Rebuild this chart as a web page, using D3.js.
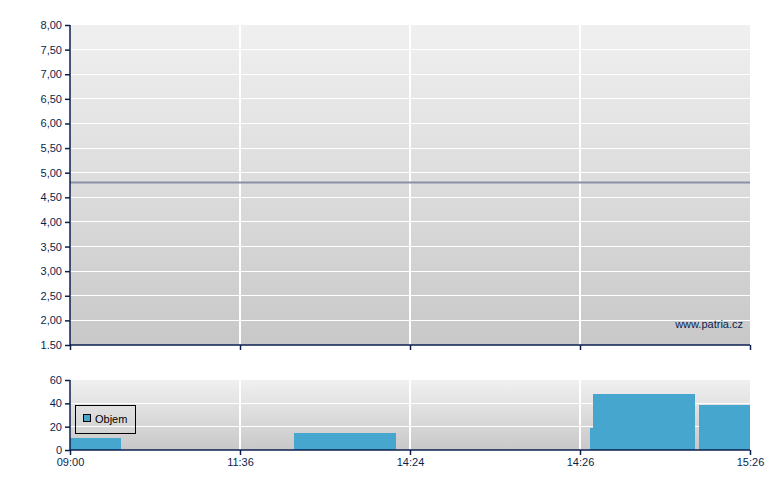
<!DOCTYPE html>
<html><head><meta charset="utf-8">
<script src="https://cdn.jsdelivr.net/npm/d3@7"></script>
<style>body{margin:0;background:#fff}svg text{font-family:"Liberation Sans",Arial,sans-serif}</style>
</head><body>
<svg id="c" width="780" height="490"></svg>
<script>
// Data
const timeLabels = ["09:00", "11:36", "14:24", "14:26", "15:26"];
const priceTicks = [8, 7.5, 7, 6.5, 6, 5.5, 5, 4.5, 4, 3.5, 3, 2.5, 2, 1.5];
const priceTickLabels = ["8,00","7,50","7,00","6,50","6,00","5,50","5,00","4,50","4,00","3,50","3,00","2,50","2,00","1.50"];
const priceLine = [[0, 4.8], [4, 4.8]];
const volTicks = [0, 20, 40, 60];
const barStart = [0, 1.318, 3.059, 3.076, 3.7];
const barEnd   = [0.3, 1.918, 3.076, 3.676, 4.0];
const barValue = [10, 15, 19, 48, 39];

(function () {
const navy = "#0b1f4f";
const barColor = "#46a6ce";
const svg = d3.select("#c");
const defs = svg.append("defs");
const grad = defs.append("linearGradient").attr("id","bg").attr("x1",0).attr("y1",0).attr("x2",0).attr("y2",1);
grad.append("stop").attr("offset","0%").attr("stop-color","#f0f0f0");
grad.append("stop").attr("offset","100%").attr("stop-color","#c8c8c8");

const L = 70, R = 750;
const x = d3.scaleLinear().domain([0, 4]).range([L, R]);

// ---- Top panel
const yP = d3.scaleLinear().domain([1.5, 8]).range([345, 25]);
const topG = svg.append("g");
topG.append("rect").attr("x", L).attr("y", 25).attr("width", R - L).attr("height", 320).attr("fill", "url(#bg)");
topG.selectAll("line.hg").data(priceTicks.filter(d => d > 1.5 && d < 8)).join("line")
  .attr("x1", L).attr("x2", R).attr("y1", d => yP(d)).attr("y2", d => yP(d))
  .attr("stroke", "#fff").attr("stroke-width", 1).attr("shape-rendering","crispEdges");
topG.selectAll("line.vg").data([1,2,3]).join("line")
  .attr("x1", d => x(d)).attr("x2", d => x(d)).attr("y1", 25).attr("y2", 345)
  .attr("stroke", "#fff").attr("stroke-width", 1.5).attr("shape-rendering","crispEdges");
topG.append("path").datum(priceLine)
  .attr("d", d3.line().x(d => x(d[0])).y(d => yP(d[1])))
  .attr("stroke", "#8a8ea6").attr("stroke-width", 2).attr("fill", "none");
topG.append("text").attr("x", 743).attr("y", 328).attr("text-anchor","end")
  .attr("font-size", 11).attr("fill", navy).text("www.patria.cz");

const yAxisP = d3.axisLeft(yP).tickValues(priceTicks).tickSize(5).tickPadding(3)
  .tickFormat((d, i) => priceTickLabels[i]);
const gyP = svg.append("g").attr("transform", `translate(${L},0)`).call(yAxisP);
const xAxisTop = d3.axisBottom(x).tickValues([0,1,2,3,4]).tickSize(5).tickFormat("");
const gxP = svg.append("g").attr("transform", `translate(0,345)`).call(xAxisTop);

// ---- Bottom panel
const yV = d3.scaleLinear().domain([0, 60]).range([450, 380]);
const bot = svg.append("g");
bot.append("rect").attr("x", L).attr("y", 380).attr("width", R - L).attr("height", 70).attr("fill", "url(#bg)");
bot.selectAll("line.hg").data([20, 40]).join("line")
  .attr("x1", L).attr("x2", R).attr("y1", d => yV(d)).attr("y2", d => yV(d))
  .attr("stroke", "#fff").attr("stroke-width", 1).attr("shape-rendering","crispEdges");
bot.selectAll("line.vg").data([1,2,3]).join("line")
  .attr("x1", d => x(d)).attr("x2", d => x(d)).attr("y1", 380).attr("y2", 450)
  .attr("stroke", "#fff").attr("stroke-width", 1.5).attr("shape-rendering","crispEdges");
bot.selectAll("rect.bar").data(barValue).join("rect")
  .attr("x", (d, i) => x(barStart[i])).attr("width", (d, i) => x(barEnd[i]) - x(barStart[i]))
  .attr("y", d => yV(d)).attr("height", d => 450 - yV(d)).attr("fill", barColor).attr("shape-rendering","crispEdges");

// legend
const lg = bot.append("g");
lg.append("rect").attr("x", 75.5).attr("y", 405.5).attr("width", 60).attr("height", 28)
  .attr("fill", "none").attr("stroke", "#000").attr("stroke-width", 1);
lg.append("rect").attr("x", 83.5).attr("y", 414.5).attr("width", 7).attr("height", 7)
  .attr("fill", barColor).attr("stroke", "#000").attr("stroke-width", 1);
lg.append("text").attr("x", 95).attr("y", 423).attr("font-size", 11).attr("fill", "#000").text("Objem");

const yAxisV = d3.axisLeft(yV).tickValues(volTicks).tickSize(5).tickPadding(3);
const gyV = svg.append("g").attr("transform", `translate(${L},0)`).call(yAxisV);
const xAxisV = d3.axisBottom(x).tickValues([0,1,2,3,4]).tickSize(5).tickPadding(3)
  .tickFormat((d, i) => timeLabels[i]);
const gxV = svg.append("g").attr("transform", `translate(0,450)`).call(xAxisV);

[gyP, gxP, gyV, gxV].forEach(g => {
  g.selectAll(".domain").attr("stroke", navy).attr("stroke-width", 1.5);
  g.selectAll(".tick line").attr("stroke", navy).attr("stroke-width", 1.5);
  g.selectAll(".tick text").attr("fill", navy).attr("font-size", 11)
    .attr("font-family", '"Liberation Sans",Arial,sans-serif');
});
[gxP, gxV].forEach(g => g.select(".domain").attr("d", `M${L},0H${R}`));
gyP.select(".domain").attr("d", `M0,25V345`);
gyV.select(".domain").attr("d", `M0,380V450`);
})();
</script>
</body></html>
